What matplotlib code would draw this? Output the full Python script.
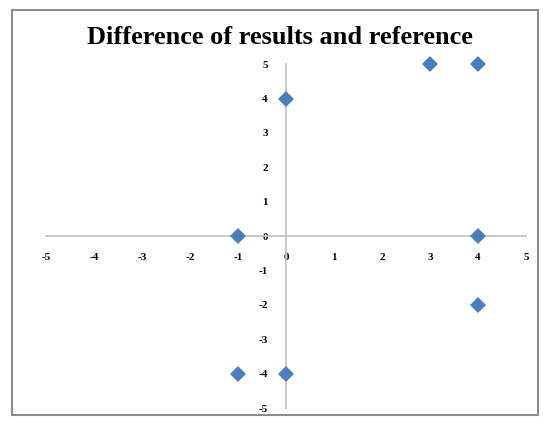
import matplotlib.pyplot as plt
from matplotlib.patches import Rectangle

plt.rcParams["axes.unicode_minus"] = False

# differences (x, y) between results and reference
dx = [3, 4, 0, -1, 4, 4, -1, 0]
dy = [5, 5, 4, 0, 0, -2, -4, -4]
ticks = [-5, -4, -3, -2, -1, 0, 1, 2, 3, 4, 5]

fig = plt.figure(figsize=(5.43, 4.22), dpi=100)
ax = fig.add_axes([0.0847, 0.033, 0.884, 0.815])

ax.plot(dx, dy, "D", color="#4a7ebf", markersize=8, markeredgewidth=0,
        clip_on=False, zorder=5)

ax.set_xlim(-5, 5)
ax.set_ylim(-5, 5)
ax.set_xticks(ticks)
ax.set_yticks(ticks)

# axes cross at the origin, no box
for side in ["top", "right"]:
    ax.spines[side].set_visible(False)
for side in ["left", "bottom"]:
    ax.spines[side].set_position("zero")
    ax.spines[side].set_color("#c4c4c4")
    ax.spines[side].set_linewidth(1.3)

ax.tick_params(length=0, labelsize=8, pad=13)
ax.tick_params(axis="x", pad=12)
for lab in ax.get_xticklabels() + ax.get_yticklabels():
    lab.set_fontfamily("Liberation Serif")
    lab.set_fontweight("bold")

fig.text(0.515, 0.91, "Difference of results and reference",
         ha="center", va="center", fontsize=19, fontweight="bold",
         family="Liberation Serif")

# chart area border
fig.patches.append(Rectangle((0.022, 0.017), 0.968, 0.96, transform=fig.transFigure,
                             fill=False, edgecolor="#8c8c8c", linewidth=1.5))

fig.savefig("out.png")
